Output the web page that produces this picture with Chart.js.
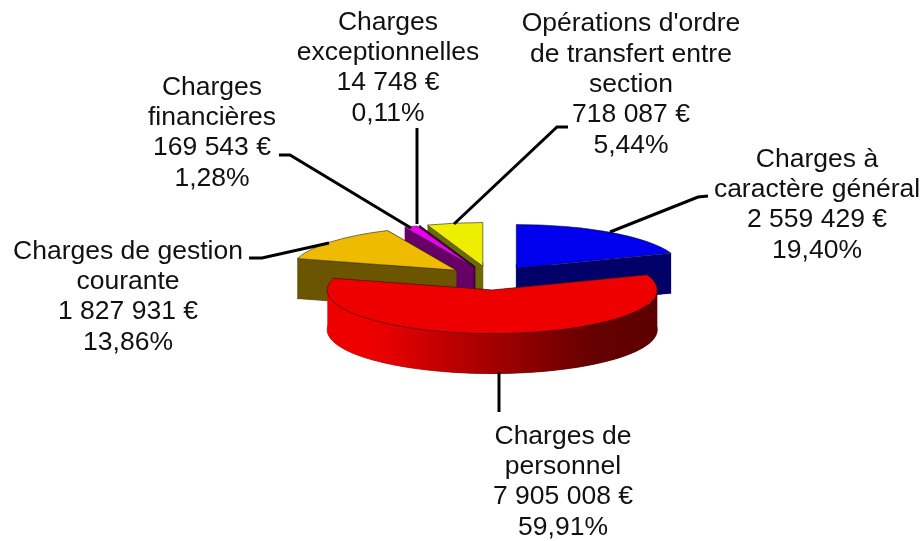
<!DOCTYPE html>
<html>
<head>
<meta charset="utf-8">
<title>Charges</title>
<style>
  html, body { margin: 0; padding: 0; background: #fff; }
  canvas { display: block; }
</style>
<script src="https://cdn.jsdelivr.net/npm/chart.js@4"></script>
</head>
<body>
<canvas id="pie-chart" width="924" height="541"></canvas>
<script>
const categories = [
  ['Charges à', 'caractère général'],
  ['Charges de', 'personnel'],
  ['Charges de gestion', 'courante'],
  ['Charges', 'financières'],
  ['Charges', 'exceptionnelles'],
  ["Opérations d'ordre", 'de transfert entre', 'section'],
];
const amounts = [2559429, 7905008, 1827931, 169543, 14748, 718087];
const percents = ['19,40%', '59,91%', '13,86%', '1,28%', '0,11%', '5,44%'];

const topColors = ['#0000ee', '#ee0000', '#eebb00', '#ee00ee', '#800080', '#eeee00'];
const sideColors = ['#000068', '#ee0000', '#6b5500', '#660066', '#400040', '#6b6b00'];

// label centre x and y of the first line
const labelPos = [
  [817, 159.5], [563, 436.5], [128, 251.5], [212, 87.5], [388, 22.5], [631, 24],
];
// leader lines, pie end first
const leaders = [
  [[610, 232], [698, 197], [708, 196]],
  [[499, 372], [499, 412]],
  [[329, 243], [262, 258], [249, 258]],
  [[411, 228], [290, 155], [279, 155]],
  [[417, 224], [417, 128]],
  [[454, 224], [557, 127], [568, 127]],
];

const SQUASH = 0.265;
const DEPTH = 40;
const LINE_H = 30.3;

function formatEuro(n) {
  return String(n).replace(/\B(?=(\d{3})+$)/g, ' ') + ' €';
}

function apexOf(arc) {
  const mid = (arc.startAngle + arc.endAngle) / 2;
  const off = arc.options.offset / 4; // same shift as ArcElement.draw
  return [arc.x + Math.cos(mid) * off, arc.y + Math.sin(mid) * off * SQUASH];
}

function rimPoint(arc, apex, angle) {
  return [
    apex[0] + Math.cos(angle) * arc.outerRadius,
    apex[1] + Math.sin(angle) * arc.outerRadius * SQUASH,
  ];
}

function wedgePath(ctx, arc, dy) {
  const a = apexOf(arc);
  const r = arc.outerRadius;
  ctx.beginPath();
  ctx.moveTo(a[0], a[1] + dy);
  ctx.ellipse(a[0], a[1] + dy, r, r * SQUASH, 0, arc.startAngle, arc.endAngle);
  ctx.closePath();
}

function fillSide(ctx, arc, color) {
  const a = apexOf(arc);
  const r = arc.outerRadius;
  ctx.fillStyle = color;

  // radial faces
  [arc.startAngle, arc.endAngle].forEach(function (angle) {
    const p = rimPoint(arc, a, angle);
    ctx.beginPath();
    ctx.moveTo(a[0], a[1]);
    ctx.lineTo(p[0], p[1]);
    ctx.lineTo(p[0], p[1] + DEPTH);
    ctx.lineTo(a[0], a[1] + DEPTH);
    ctx.closePath();
    ctx.fill();
  });

  // outer wall, only the part that faces the viewer
  const from = Math.max(arc.startAngle, 0);
  const to = Math.min(arc.endAngle, Math.PI);
  if (to > from) {
    ctx.beginPath();
    ctx.ellipse(a[0], a[1], r, r * SQUASH, 0, from, to);
    ctx.ellipse(a[0], a[1] + DEPTH, r, r * SQUASH, 0, to, from, true);
    ctx.closePath();
    ctx.fill();
  }
}

// flattened pie with a side wall, painted back to front
const pie3d = {
  id: 'pie3d',
  beforeDatasetsDraw(chart) {
    const ctx = chart.ctx;
    const arcs = chart.getDatasetMeta(0).data;
    const order = [0, 5, 4, 3, 2, 1];

    ctx.save();
    ctx.lineJoin = 'round';
    order.forEach(function (i) {
      const arc = arcs[i];
      let side = sideColors[i];
      if (i === 1) {
        side = ctx.createLinearGradient(327, 0, 657, 0);
        side.addColorStop(0, '#ee0000');
        side.addColorStop(0.14, '#ee0000');
        side.addColorStop(0.8, '#660000');
        side.addColorStop(1, '#5c0000');
      }
      wedgePath(ctx, arc, DEPTH);
      ctx.strokeStyle = 'rgba(40,40,40,0.6)';
      ctx.lineWidth = 1;
      ctx.stroke();
      ctx.fillStyle = side;
      ctx.fill();
      fillSide(ctx, arc, side);

      wedgePath(ctx, arc, 0);
      ctx.fillStyle = topColors[i];
      ctx.fill();
      ctx.strokeStyle = 'rgba(20,20,20,0.7)';
      ctx.lineWidth = 0.8;
      ctx.stroke();
    });
    ctx.restore();
    return false;
  },
  // datasets are cancelled above, so labels and leaders go here
  afterDraw(chart) {
    const ctx = chart.ctx;
    ctx.save();
    ctx.strokeStyle = '#000';
    ctx.lineWidth = 3;
    leaders.forEach(function (pts) {
      ctx.beginPath();
      pts.forEach(function (p, j) {
        if (j === 0) ctx.moveTo(p[0], p[1]);
        else ctx.lineTo(p[0], p[1]);
      });
      ctx.stroke();
    });

    ctx.fillStyle = '#111';
    ctx.font = '26.5px "Liberation Sans", Arial, sans-serif';
    ctx.textAlign = 'center';
    ctx.textBaseline = 'middle';
    categories.forEach(function (lines, i) {
      const all = lines.concat([formatEuro(amounts[i]), percents[i]]);
      all.forEach(function (txt, j) {
        ctx.fillText(txt, labelPos[i][0], labelPos[i][1] + j * LINE_H);
      });
    });
    ctx.restore();
  },
};

new Chart(document.getElementById('pie-chart'), {
  type: 'pie',
  data: {
    labels: categories.map(function (l) { return l.join(' '); }),
    datasets: [{
      data: amounts,
      backgroundColor: topColors,
      offset: 180,
      borderWidth: 0,
    }],
  },
  options: {
    responsive: false,
    animation: false,
    radius: 165,
    layout: { padding: { left: 57, top: 15 } },
    plugins: {
      legend: { display: false },
      tooltip: { enabled: false },
    },
  },
  plugins: [pie3d],
});
</script>
</body>
</html>
